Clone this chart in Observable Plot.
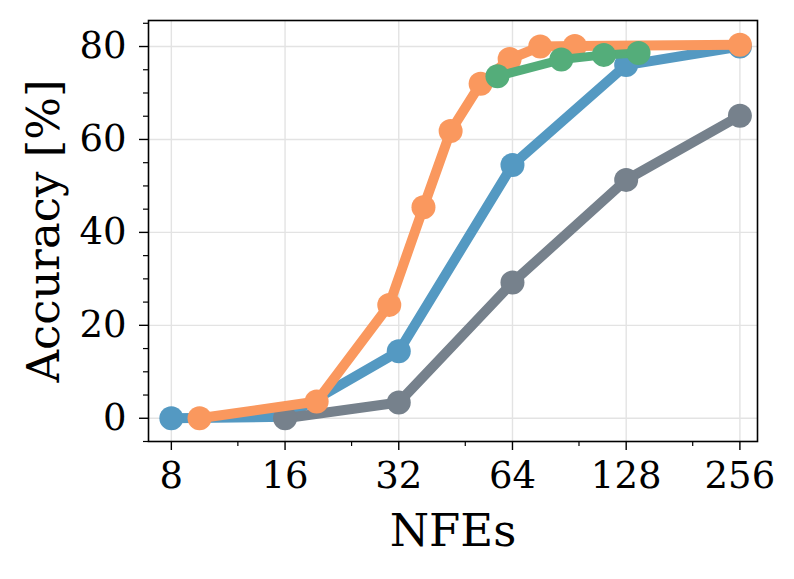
<!DOCTYPE html>
<html>
<head>
<meta charset="utf-8">
<script src="https://cdn.jsdelivr.net/npm/d3@7"></script>
<script src="https://cdn.jsdelivr.net/npm/@observablehq/plot@0.6"></script>
<style>
  html, body { margin: 0; padding: 0; background: white; }
  #chart { width: 794px; height: 579px; }
</style>
</head>
<body>
<div id="chart"></div>
<script>
// ---- data ----
const xTicks = [8, 16, 32, 64, 128, 256];
const xMinorTicks = [12, 24, 48, 96, 192];
const yTicks = [0, 20, 40, 60, 80];
const yMinorTicks = [-5, 5, 10, 15, 25, 30, 35, 45, 50, 55, 65, 70, 75, 85];

const grayNfe = [16, 32, 64, 128, 256];
const grayAcc = [0, 3.4, 29.2, 51.3, 65.1];

const blueNfe = [8, 16, 32, 64, 128, 256];
const blueAcc = [0, 0.3, 14.4, 54.5, 76.0, 80.0];

const orangeNfe = [9.5, 19.4, 30.2, 37.2, 43.9, 52.7, 62.9, 75.8, 93.6, 256];
const orangeAcc = [0, 3.6, 24.4, 45.4, 61.8, 72.0, 77.3, 80.0, 80.1, 80.4];

const greenNfe = [58.4, 86.2, 111.7, 138];
const greenAcc = [73.6, 77.2, 78.2, 78.6];

const series = [
  {name: "gray", nfe: grayNfe, acc: grayAcc, color: "#76818c", width: 10},
  {name: "blue", nfe: blueNfe, acc: blueAcc, color: "#5499c2", width: 10},
  {name: "orange", nfe: orangeNfe, acc: orangeAcc, color: "#fa985e", width: 10},
  {name: "green", nfe: greenNfe, acc: greenAcc, color: "#54ad7a", width: 9}
];
const drawOrder = ["blue", "gray", "orange", "green"];

const rows = s => s.nfe.map((x, i) => ({x, y: s.acc[i]}));

const dataMarks = [];
for (const name of drawOrder) {
  const s = series.find(d => d.name === name);
  const data = rows(s);
  dataMarks.push(Plot.line(data, {x: "x", y: "y", stroke: s.color, strokeWidth: s.width, strokeLinejoin: "round", strokeLinecap: "round"}));
  dataMarks.push(Plot.dot(data, {x: "x", y: "y", r: 12, fill: s.color, stroke: "none"}));
}

const chart = Plot.plot({
  width: 794,
  height: 579,
  marginLeft: 148,
  marginRight: 37,
  marginTop: 20,
  marginBottom: 138,
  style: {fontFamily: "DejaVu Serif", background: "white", color: "black"},
  x: {type: "log", base: 2, domain: [6.96, 285]},
  y: {domain: [-5, 85.6]},
  marks: [
    Plot.ruleX(xTicks, {stroke: "#e3e3e3", strokeWidth: 1.4}),
    Plot.ruleY(yTicks, {stroke: "#e3e3e3", strokeWidth: 1.4}),
    ...dataMarks,
    Plot.frame({stroke: "black", strokeWidth: 1.6}),
    Plot.axisX({ticks: xTicks, tickFormat: d => String(d), tickSize: 9, tickPadding: 11, fontSize: 37, label: null, strokeWidth: 1.4}),
    Plot.axisX({ticks: xMinorTicks, tickFormat: () => "", tickSize: 5, label: null, strokeWidth: 1.2}),
    Plot.axisY({ticks: yTicks, tickFormat: d => String(d), tickSize: 9, tickPadding: 13, fontSize: 37, label: null, strokeWidth: 1.4}),
    Plot.axisY({ticks: yMinorTicks.filter(v => v >= -5 && v <= 85), tickFormat: () => "", tickSize: 5, label: null, strokeWidth: 1.2}),
    Plot.text(["NFEs"], {frameAnchor: "bottom", dy: 104, fontSize: 45, fill: "black", textAnchor: "middle"}),
    Plot.text(["Accuracy [%]"], {frameAnchor: "left", dx: -104, rotate: -90, fontSize: 45, fill: "black", textAnchor: "middle"})
  ]
});
document.getElementById("chart").appendChild(chart);
</script>
</body>
</html>
